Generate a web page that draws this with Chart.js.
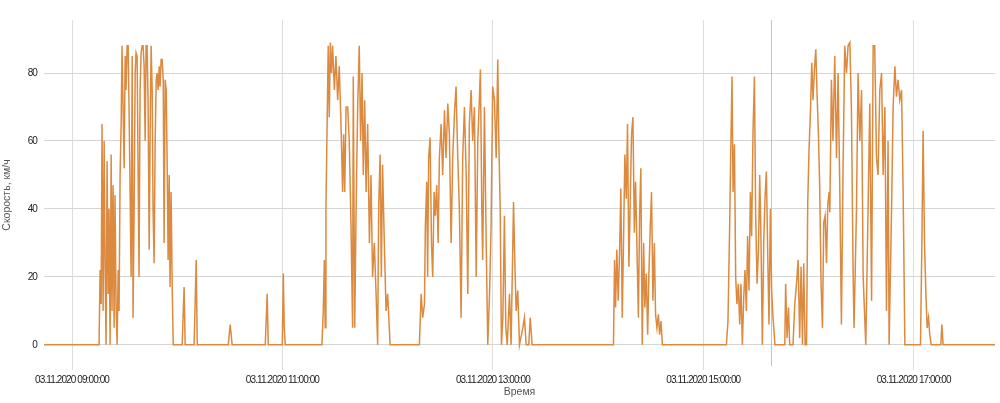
<!DOCTYPE html>
<html>
<head>
<meta charset="utf-8">
<script src="https://cdn.jsdelivr.net/npm/chart.js@4/dist/chart.umd.min.js"></script>
<style>
html,body{margin:0;padding:0;background:#ffffff;}
#wrap{width:1000px;height:403px;position:relative;}
</style>
</head>
<body>
<div id="wrap"><canvas id="c" width="1000" height="403"></canvas></div>
<script>
// Time is in minutes since midnight of 03.11.2020
const dateLabel = "03.11.2020";
const xRange = [524.0, 1066.4];
const xTickTimes = [540, 660, 780, 900, 1020];
const yTickValues = [0, 20, 40, 60, 80];
const yRange = [-7.4, 95.6];
const cursorTime = 938.5;

const startTimes = [524.0];
const startSpeeds = [0];

const trip1Times = [555.4,556.0,556.6,557.1,557.7,558.3,558.8,559.4,560.0,560.6,561.1,561.7,562.3,562.8,563.4,564.0,564.5,565.1,565.7,566.3,566.8,567.4,568.0,568.5,569.1,569.7,570.3,570.8,571.4,572.0,572.5,573.1,573.7,574.3,574.8,575.4,576.0,576.5,577.1,577.7,578.2,578.8,579.4,580.0,580.5,581.1,581.7,582.2,582.8,583.4,584.0,584.5,585.1,585.7,586.2,586.8,587.4,588.0,588.5,589.1,589.7,590.2,590.8,591.4,592.0,592.5,593.1,593.7,594.2,594.8,595.4,595.9,596.5,597.1,597.7];
const trip1Speeds = [0,22,12,65,10,60,25,0,54,15,40,0,56,10,47,5,44,12,0,22,10,50,65,88,70,52,85,75,88,88,70,45,20,85,8,40,80,86,85,50,20,75,86,88,88,82,60,88,88,70,28,60,88,75,40,24,60,78,80,75,82,76,84,84,78,30,78,75,55,25,50,17,45,18,0];

const shortTimes = [602.8,603.9,604.5,609.6,610.2,610.8,611.4,629.1,630.2,631.3,650.2,651.3,651.9,659.9,660.5,661.0,661.6];
const shortSpeeds = [0,17,0,0,12,25,0,0,6,0,0,15,0,0,21,5,0];

const trip2Times = [682.5,683.3,683.9,684.4,684.8,685.4,686.1,686.7,687.3,688.0,688.6,689.6,690.5,691.5,692.4,693.4,694.3,694.9,695.5,696.3,697.2,698.1,699.1,700.0,700.4,701.2,702.0,702.9,703.8,704.6,705.4,706.1,706.9,707.7,708.6,709.6,710.5,711.4,712.4,713.4,714.3,714.9,715.7,716.4,717.1,718.1,719.1,720.0,721.4];
const trip2Speeds = [0,10,25,5,40,62,88,67,89,80,88,75,85,72,82,65,45,62,45,70,70,60,35,5,79,5,40,70,88,60,80,50,72,45,65,30,50,20,30,15,0,41,56,20,53,30,10,15,0];

const trip3Times = [738.1,739.1,740.0,741.0,741.5,742.3,742.8,743.4,744.2,745.0,745.7,746.5,747.2,748.0,748.8,749.5,750.5,751.4,752.4,753.3,754.3,755.2,756.2,757.1,758.1,759.0,760.0,760.9,761.9,762.8,763.8,764.8,765.7,766.6,767.6,768.5,769.5,770.5,771.4,772.3,772.9,773.7,774.2,775.2,776.2,777.1,778.1,779.0,779.9,780.9,781.9,782.8,783.4,784.2,784.9,785.7,786.6,787.4,788.2,789.5,790.4,791.8,792.5,793.3,794.2,795.2,797.1,798.0,799.0,800.5,801.3,802.4];
const trip3Speeds = [0,15,8,12,35,48,20,55,61,30,20,45,38,47,30,55,65,50,69,55,71,62,30,55,68,76,55,40,8,55,70,50,15,65,75,60,70,20,60,72,81,40,25,70,30,0,15,35,76,72,55,84,60,40,0,8,38,5,0,15,0,42,25,10,16,0,5,8,0,0,8,0];

const trip4Times = [848.8,849.4,850.0,850.7,851.5,852.3,853.0,853.8,854.6,855.3,856.1,856.8,857.6,858.4,859.1,859.9,860.7,861.4,862.1,863.0,863.7,864.4,865.2,866.0,866.7,867.5,868.3,869.0,869.8,870.5,871.3,872.1,872.8,873.6,874.4,875.1,875.9,876.7];
const trip4Speeds = [0,25,11,28,13,28,46,8,33,56,43,65,23,43,62,67,33,48,31,8,38,52,0,30,11,21,3,21,35,45,13,30,9,5,9,3,7,0];

const trip5Times = [913.2,914.1,915.1,915.6,916.4,917.0,917.8,918.5,919.2,920.0,920.8,921.5,922.3,923.1,923.8,924.6,925.3,926.1,926.9,927.6,928.4,929.2,929.9,930.7,931.5,932.2,932.9,933.7,934.5,935.2,936.0,936.8,937.5,938.3,939.0,939.8,940.9,946.5,947.0,947.8,948.6,949.3,951.2,952.2,953.2,954.1,955.0,955.8,956.6,957.3,958.1,958.9];
const trip5Speeds = [0,7,36,54,79,45,59,20,12,18,6,18,0,14,22,10,32,16,45,32,63,79,38,18,28,50,32,0,30,43,51,26,6,40,16,8,0,0,18,2,11,0,0,12,18,25,2,23,0,24,0,0];

const trip6Times = [959.6,960.3,961.1,961.9,962.6,963.4,964.2,964.9,965.7,966.4,967.2,968.0,968.7,969.5,970.3,971.0,971.8,972.2,973.1,974.0,975.0,976.0,976.9,977.9,978.8,979.7,980.7,981.7,982.6,983.6,984.5,985.5,986.0,987.4,988.3,989.3,990.3,991.2,992.7,994.0,995.0,996.0,996.9,997.8,998.8,999.7,1000.7,1001.7,1002.6,1003.6,1004.5,1005.4,1006.0,1007.4,1008.3,1009.3,1010.2,1011.1,1012.1,1013.1,1014.0,1015.0];
const trip6Speeds = [42,57,68,83,72,81,87,74,62,47,18,5,36,38,24,41,45,39,78,60,85,55,80,45,6,50,88,80,88,89,70,20,5,40,80,60,75,20,0,40,71,13,88,88,55,50,75,80,50,70,10,60,0,40,70,82,73,78,72,75,45,0];

const trip7Times = [1023.9,1024.7,1025.4,1026.2,1027.0,1027.7,1028.5,1029.2,1030.0,1035.5,1036.1,1036.8];
const trip7Speeds = [0,30,63,30,15,5,8,3,0,0,6,0];

const endTimes = [1066.4];
const endSpeeds = [0];

const allTimes = [].concat(startTimes, trip1Times, shortTimes, trip2Times, trip3Times, trip4Times, trip5Times, trip6Times, trip7Times, endTimes);
const allSpeeds = [].concat(startSpeeds, trip1Speeds, shortSpeeds, trip2Speeds, trip3Speeds, trip4Speeds, trip5Speeds, trip6Speeds, trip7Speeds, endSpeeds);
const points = allTimes.map((t, i) => ({x: t, y: allSpeeds[i]}));

function pad(n){ return String(n).padStart(2, '0'); }
function fmtTime(v){
  const total = Math.round(v * 60);
  const h = Math.floor(total / 3600), m = Math.floor((total % 3600) / 60), s = total % 60;
  return dateLabel + ' ' + pad(h) + ':' + pad(m) + ':' + pad(s);
}

const tickFont = {family: "'Liberation Sans','Open Sans',sans-serif", size: 10};
const titleFont = {family: "'Liberation Sans','Open Sans',sans-serif", size: 10.5};

// tighter letter spacing for tick labels only
const tightLabels = {
  id: 'tightLabels',
  beforeDraw(chart){
    Object.values(chart.scales).forEach(scale => {
      if (scale._tightPatched) return;
      const orig = scale.drawLabels;
      scale.drawLabels = function(area){
        const ctx = this.ctx;
        ctx.save();
        ctx.letterSpacing = '-0.9px';
        orig.call(this, area);
        ctx.restore();
      };
      scale._tightPatched = true;
    });
  }
};

const cursorPlugin = {
  id: 'cursorLine',
  afterDatasetsDraw(chart){
    const {ctx, chartArea, scales} = chart;
    const x = Math.round(scales.x.getPixelForValue(cursorTime)) + 0.5;
    ctx.save();
    ctx.strokeStyle = 'rgba(140,150,235,0.6)';
    ctx.lineWidth = 1;
    ctx.beginPath();
    ctx.moveTo(x, chartArea.top);
    ctx.lineTo(x, chartArea.bottom - 4);
    ctx.stroke();
    ctx.restore();
  }
};

new Chart(document.getElementById('c'), {
  type: 'line',
  data: {
    datasets: [{
      data: points,
      borderColor: '#dc8a40',
      borderWidth: 1.5,
      pointRadius: 0,
      tension: 0,
      fill: false
    }]
  },
  options: {
    responsive: false,
    animation: false,
    devicePixelRatio: 1,
    layout: {padding: {top: 20, right: 5, left: 0, bottom: 0}},
    plugins: {legend: {display: false}, tooltip: {enabled: false}},
    scales: {
      x: {
        type: 'linear',
        min: xRange[0],
        max: xRange[1],
        afterBuildTicks: s => { s.ticks = xTickTimes.map(v => ({value: v})); },
        afterFit: s => { s.height = 33; },
        ticks: {autoSkip: false, maxRotation: 0, minRotation: 0, padding: 4, color: '#222', font: tickFont, callback: v => fmtTime(v)},
        grid: {color: '#dedede', drawTicks: false, lineWidth: 1},
        border: {display: false},
        title: {display: true, text: 'Время', color: '#555', font: titleFont, padding: {top: 0, bottom: 5}}
      },
      y: {
        min: yRange[0],
        max: yRange[1],
        afterBuildTicks: s => { s.ticks = yTickValues.map(v => ({value: v})); },
        afterFit: s => { s.width = 44; },
        ticks: {padding: 7, color: '#222', font: tickFont},
        grid: {color: '#d6d6d6', drawTicks: false, lineWidth: 1},
        border: {display: false},
        title: {display: true, text: 'Скорость, км/ч', color: '#555', font: titleFont, padding: {top: 1, bottom: 0}}
      }
    }
  },
  plugins: [tightLabels, cursorPlugin]
});
</script>
</body>
</html>
